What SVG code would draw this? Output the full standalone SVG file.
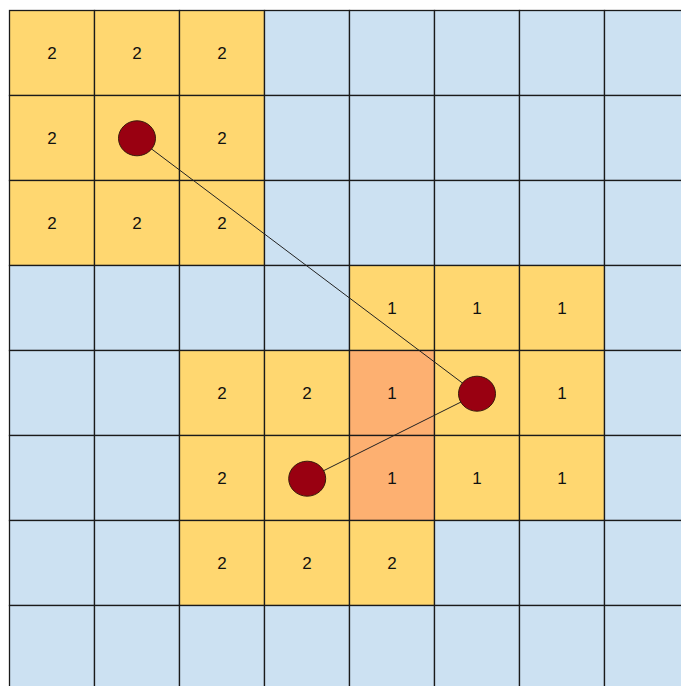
<svg xmlns="http://www.w3.org/2000/svg" width="681" height="686" viewBox="0 0 681 686">
<style>
.c rect{stroke:#1a1a1a;stroke-width:1.3}
.b{fill:#cce1f2}
.y{fill:#ffd770}
.o{fill:#fdb071}
text{font-family:"Liberation Sans",Arial,sans-serif;font-size:17px;fill:#111;text-anchor:middle}
.dot{fill:#990011;stroke:#3a1a0a;stroke-width:1}
.ln{stroke:#222;stroke-width:1;fill:none}
</style>
<rect width="681" height="686" fill="#fff"/>
<g id="grid" class="c">
<g id="r0">
<g id="c0-0"><rect class="y" x="9.5" y="10.5" width="85" height="85"/><text x="52" y="59">2</text></g>
<g id="c0-1"><rect class="y" x="94.5" y="10.5" width="85" height="85"/><text x="137" y="59">2</text></g>
<g id="c0-2"><rect class="y" x="179.5" y="10.5" width="85" height="85"/><text x="222" y="59">2</text></g>
<g id="c0-3"><rect class="b" x="264.5" y="10.5" width="85" height="85"/></g>
<g id="c0-4"><rect class="b" x="349.5" y="10.5" width="85" height="85"/></g>
<g id="c0-5"><rect class="b" x="434.5" y="10.5" width="85" height="85"/></g>
<g id="c0-6"><rect class="b" x="519.5" y="10.5" width="85" height="85"/></g>
<g id="c0-7"><rect class="b" x="604.5" y="10.5" width="85" height="85"/></g>
</g>
<g id="r1">
<g id="c1-0"><rect class="y" x="9.5" y="95.5" width="85" height="85"/><text x="52" y="144">2</text></g>
<g id="c1-1"><rect class="y" x="94.5" y="95.5" width="85" height="85"/></g>
<g id="c1-2"><rect class="y" x="179.5" y="95.5" width="85" height="85"/><text x="222" y="144">2</text></g>
<g id="c1-3"><rect class="b" x="264.5" y="95.5" width="85" height="85"/></g>
<g id="c1-4"><rect class="b" x="349.5" y="95.5" width="85" height="85"/></g>
<g id="c1-5"><rect class="b" x="434.5" y="95.5" width="85" height="85"/></g>
<g id="c1-6"><rect class="b" x="519.5" y="95.5" width="85" height="85"/></g>
<g id="c1-7"><rect class="b" x="604.5" y="95.5" width="85" height="85"/></g>
</g>
<g id="r2">
<g id="c2-0"><rect class="y" x="9.5" y="180.5" width="85" height="85"/><text x="52" y="229">2</text></g>
<g id="c2-1"><rect class="y" x="94.5" y="180.5" width="85" height="85"/><text x="137" y="229">2</text></g>
<g id="c2-2"><rect class="y" x="179.5" y="180.5" width="85" height="85"/><text x="222" y="229">2</text></g>
<g id="c2-3"><rect class="b" x="264.5" y="180.5" width="85" height="85"/></g>
<g id="c2-4"><rect class="b" x="349.5" y="180.5" width="85" height="85"/></g>
<g id="c2-5"><rect class="b" x="434.5" y="180.5" width="85" height="85"/></g>
<g id="c2-6"><rect class="b" x="519.5" y="180.5" width="85" height="85"/></g>
<g id="c2-7"><rect class="b" x="604.5" y="180.5" width="85" height="85"/></g>
</g>
<g id="r3">
<g id="c3-0"><rect class="b" x="9.5" y="265.5" width="85" height="85"/></g>
<g id="c3-1"><rect class="b" x="94.5" y="265.5" width="85" height="85"/></g>
<g id="c3-2"><rect class="b" x="179.5" y="265.5" width="85" height="85"/></g>
<g id="c3-3"><rect class="b" x="264.5" y="265.5" width="85" height="85"/></g>
<g id="c3-4"><rect class="y" x="349.5" y="265.5" width="85" height="85"/><text x="392" y="314">1</text></g>
<g id="c3-5"><rect class="y" x="434.5" y="265.5" width="85" height="85"/><text x="477" y="314">1</text></g>
<g id="c3-6"><rect class="y" x="519.5" y="265.5" width="85" height="85"/><text x="562" y="314">1</text></g>
<g id="c3-7"><rect class="b" x="604.5" y="265.5" width="85" height="85"/></g>
</g>
<g id="r4">
<g id="c4-0"><rect class="b" x="9.5" y="350.5" width="85" height="85"/></g>
<g id="c4-1"><rect class="b" x="94.5" y="350.5" width="85" height="85"/></g>
<g id="c4-2"><rect class="y" x="179.5" y="350.5" width="85" height="85"/><text x="222" y="399">2</text></g>
<g id="c4-3"><rect class="y" x="264.5" y="350.5" width="85" height="85"/><text x="307" y="399">2</text></g>
<g id="c4-4"><rect class="o" x="349.5" y="350.5" width="85" height="85"/><text x="392" y="399">1</text></g>
<g id="c4-5"><rect class="y" x="434.5" y="350.5" width="85" height="85"/></g>
<g id="c4-6"><rect class="y" x="519.5" y="350.5" width="85" height="85"/><text x="562" y="399">1</text></g>
<g id="c4-7"><rect class="b" x="604.5" y="350.5" width="85" height="85"/></g>
</g>
<g id="r5">
<g id="c5-0"><rect class="b" x="9.5" y="435.5" width="85" height="85"/></g>
<g id="c5-1"><rect class="b" x="94.5" y="435.5" width="85" height="85"/></g>
<g id="c5-2"><rect class="y" x="179.5" y="435.5" width="85" height="85"/><text x="222" y="484">2</text></g>
<g id="c5-3"><rect class="y" x="264.5" y="435.5" width="85" height="85"/></g>
<g id="c5-4"><rect class="o" x="349.5" y="435.5" width="85" height="85"/><text x="392" y="484">1</text></g>
<g id="c5-5"><rect class="y" x="434.5" y="435.5" width="85" height="85"/><text x="477" y="484">1</text></g>
<g id="c5-6"><rect class="y" x="519.5" y="435.5" width="85" height="85"/><text x="562" y="484">1</text></g>
<g id="c5-7"><rect class="b" x="604.5" y="435.5" width="85" height="85"/></g>
</g>
<g id="r6">
<g id="c6-0"><rect class="b" x="9.5" y="520.5" width="85" height="85"/></g>
<g id="c6-1"><rect class="b" x="94.5" y="520.5" width="85" height="85"/></g>
<g id="c6-2"><rect class="y" x="179.5" y="520.5" width="85" height="85"/><text x="222" y="569">2</text></g>
<g id="c6-3"><rect class="y" x="264.5" y="520.5" width="85" height="85"/><text x="307" y="569">2</text></g>
<g id="c6-4"><rect class="y" x="349.5" y="520.5" width="85" height="85"/><text x="392" y="569">2</text></g>
<g id="c6-5"><rect class="b" x="434.5" y="520.5" width="85" height="85"/></g>
<g id="c6-6"><rect class="b" x="519.5" y="520.5" width="85" height="85"/></g>
<g id="c6-7"><rect class="b" x="604.5" y="520.5" width="85" height="85"/></g>
</g>
<g id="r7">
<g id="c7-0"><rect class="b" x="9.5" y="605.5" width="85" height="85"/></g>
<g id="c7-1"><rect class="b" x="94.5" y="605.5" width="85" height="85"/></g>
<g id="c7-2"><rect class="b" x="179.5" y="605.5" width="85" height="85"/></g>
<g id="c7-3"><rect class="b" x="264.5" y="605.5" width="85" height="85"/></g>
<g id="c7-4"><rect class="b" x="349.5" y="605.5" width="85" height="85"/></g>
<g id="c7-5"><rect class="b" x="434.5" y="605.5" width="85" height="85"/></g>
<g id="c7-6"><rect class="b" x="519.5" y="605.5" width="85" height="85"/></g>
<g id="c7-7"><rect class="b" x="604.5" y="605.5" width="85" height="85"/></g>
</g>
</g>
<g id="connectors">
<line class="ln" x1="137" y1="138" x2="477" y2="394"/>
<line class="ln" x1="477" y1="394" x2="307" y2="479"/>
</g>
<g id="point-a"><ellipse class="dot" cx="137" cy="138.3" rx="18.5" ry="17.5"/></g>
<g id="point-b"><ellipse class="dot" cx="477" cy="393.7" rx="18.5" ry="17.5"/></g>
<g id="point-c"><ellipse class="dot" cx="307.2" cy="478.7" rx="18.5" ry="17.5"/></g>
</svg>
